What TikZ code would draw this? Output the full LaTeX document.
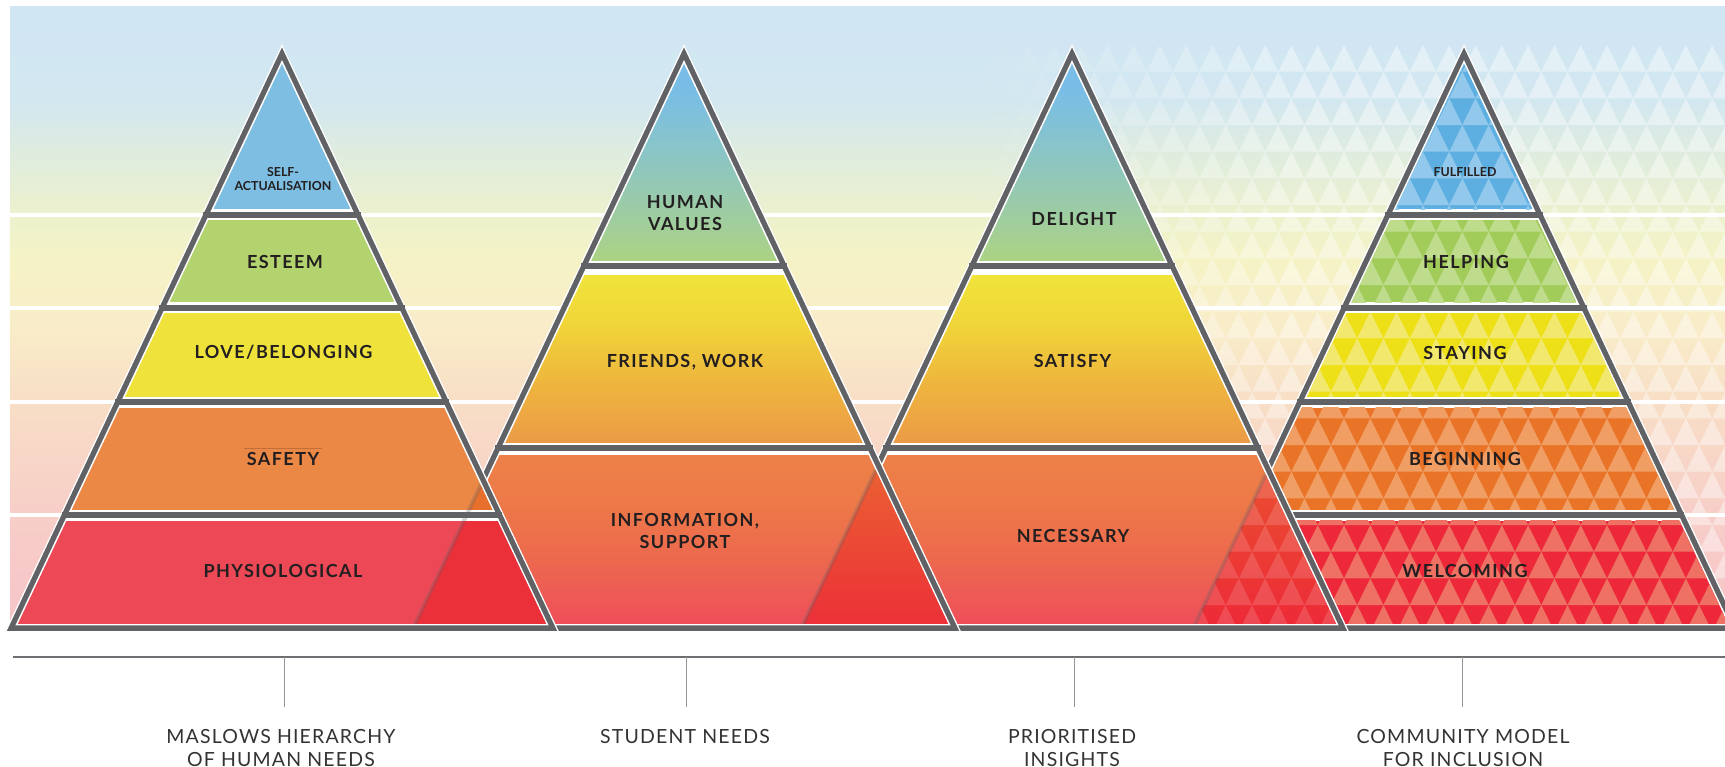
\documentclass[tikz,border=0pt]{standalone}
\usepackage{fontspec}
\setmainfont{Lato}
\newfontfamily\labfont[LetterSpace=8]{Lato}
\newfontfamily\smfont{Lato}
\newfontfamily\capfont[LetterSpace=6]{Lato}

\definecolor{dg}{RGB}{97,98,102}
\definecolor{txt}{RGB}{35,31,32}
\definecolor{captxt}{RGB}{51,51,51}
\definecolor{tickc}{RGB}{150,150,152}
\definecolor{basec}{RGB}{109,110,113}
% background
\definecolor{bgA}{RGB}{246,196,200}
\definecolor{bgB}{RGB}{247,206,200}
\definecolor{bgC}{RGB}{248,222,198}
\definecolor{bgD}{RGB}{249,236,200}
\definecolor{bgE}{RGB}{245,243,198}
\definecolor{bgF}{RGB}{236,241,205}
\definecolor{bgG}{RGB}{222,236,224}
\definecolor{bgH}{RGB}{210,231,240}
\definecolor{bgI}{RGB}{208,230,243}
% pyramid 1
\definecolor{aB}{RGB}{125,190,226}
\definecolor{eG}{RGB}{179,211,111}
\definecolor{lY}{RGB}{239,227,59}
\definecolor{sO}{RGB}{236,136,69}
\definecolor{pR}{RGB}{237,72,86}
\definecolor{oO}{RGB}{232,112,45}
\definecolor{oR}{RGB}{235,48,58}
% pyramid 4 (base and light triangles)
\definecolor{fB}{RGB}{94,175,225}
\definecolor{fBl}{RGB}{145,200,236}
\definecolor{hG}{RGB}{162,204,90}
\definecolor{hGl}{RGB}{190,220,140}
\definecolor{sY}{RGB}{237,224,23}
\definecolor{sYl}{RGB}{242,232,110}
\definecolor{bO}{RGB}{233,116,40}
\definecolor{bOl}{RGB}{240,158,100}
\definecolor{wR}{RGB}{236,40,58}
\definecolor{wRl}{RGB}{238,113,100}
% gradient layers
\definecolor{tA}{RGB}{172,211,131}
\definecolor{tB}{RGB}{152,202,172}
\definecolor{tC}{RGB}{133,195,208}
\definecolor{tD}{RGB}{121,189,230}
\definecolor{mA}{RGB}{236,155,70}
\definecolor{mB}{RGB}{238,180,62}
\definecolor{mC}{RGB}{240,212,56}
\definecolor{mD}{RGB}{240,228,58}
\definecolor{bA}{RGB}{238,78,90}
\definecolor{bB}{RGB}{237,105,78}
\definecolor{bC}{RGB}{237,122,72}
\definecolor{bD}{RGB}{237,128,72}
\definecolor{oxA}{RGB}{236,48,56}
\definecolor{oxB}{RGB}{234,100,50}
\definecolor{oyA}{RGB}{237,42,55}
\definecolor{oyB}{RGB}{234,82,48}

\pgfdeclareverticalshading{bgsh}{100bp}{color(0bp)=(bgA); color(25bp)=(bgA); color(34.1bp)=(bgB); color(43.2bp)=(bgC); color(49bp)=(bgD); color(54.6bp)=(bgE); color(58.3bp)=(bgF); color(63.5bp)=(bgG); color(67.5bp)=(bgH); color(75bp)=(bgI); color(100bp)=(bgI)}
\pgfdeclareverticalshading{topsh}{100bp}{color(0bp)=(tA); color(25bp)=(tA); color(40bp)=(tB); color(55bp)=(tC); color(65bp)=(tD); color(75bp)=(tD); color(100bp)=(tD)}
\pgfdeclareverticalshading{midsh}{100bp}{color(0bp)=(mA); color(25bp)=(mA); color(42bp)=(mB); color(60bp)=(mC); color(75bp)=(mD); color(100bp)=(mD)}
\pgfdeclareverticalshading{botsh}{100bp}{color(0bp)=(bA); color(25bp)=(bA); color(45bp)=(bB); color(62bp)=(bC); color(75bp)=(bD); color(100bp)=(bD)}
\pgfdeclareverticalshading{ovxsh}{100bp}{color(0bp)=(oxA); color(25bp)=(oxA); color(75bp)=(oxB); color(100bp)=(oxB)}
\pgfdeclareverticalshading{ovysh}{100bp}{color(0bp)=(oyA); color(25bp)=(oyA); color(75bp)=(oyB); color(100bp)=(oyB)}

% offset triangle: apex x, offset d (outward positive)
\newcommand\pyrtri[2]{(#1,{54-2.344*(#2)}) -- ({#1+(574+3.344*(#2))*0.4716},{628+(#2)}) -- ({#1-(574+3.344*(#2))*0.4716},{628+(#2)}) -- cycle}
\newcommand\pyrbase[1]{\fill[white] \pyrtri{#1}{4.2}; \fill[dg] \pyrtri{#1}{2.8}; \fill[white] \pyrtri{#1}{-2.6};}
\newcommand\pyrdiv[2]{\draw[divline] ({#1-0.4716*(#2-54)-3},#2) -- ({#1+0.4716*(#2-54)+3},#2);}
% pattern: kmin kmax rmin rmax fill-options
\newcommand\pyrpat[5]{\foreach \r in {#3,...,#4}{\foreach \k in {#1,...,#2}{%
  \pgfmathsetmacro\ax{1580.7+(\k+0.5*mod(\r,2))*26.3}%
  \fill[#5] (\ax,{45+\r*26.67}) -- ++(13.15,26.67) -- ++(-26.3,0) -- cycle;}}}
% one patterned layer of pyramid 4: ytop ybot base light rmin rmax
\newcommand\patlayer[6]{\begin{scope}
  \clip (1150,#1) rectangle (1780,#2);
  \fill[#3] (1150,#1) rectangle (1780,#2);
  \pyrpat{-16}{6}{#5}{#6}{#4}
\end{scope}}

\tikzset{
  divline/.style={dg, line width=6pt},
  ghost/.style={dg, opacity=0.28, line width=4pt},
  lab/.style={text=txt, font=\labfont\bfseries\fontsize{18}{22}\selectfont, inner sep=0pt, align=center},
  smlab/.style={text=txt, font=\smfont\bfseries\fontsize{12.4}{14}\selectfont, inner sep=0pt, align=center},
  caplab/.style={text=captxt, font=\capfont\fontsize{19.5}{22.3}\selectfont, inner sep=0pt, align=center},
  bgline/.style={white, line width=3.4pt},
  tickline/.style={tickc, line width=1pt},
  baseline/.style={basec, line width=1.5pt}
}

\begin{document}
\begin{tikzpicture}[x=1pt,y=-1pt]
\useasboundingbox (0,0) rectangle (1725,767);
\fill[white] (0,0) rectangle (1725,767);
\clip (0,0) rectangle (1725,767);

% background
\shade[shading=bgsh] (10,7) rectangle (1725,628);
\begin{scope}
  \clip (10,7) rectangle (1725,628);
  \foreach \r in {0,...,21}{\foreach \k in {-24,...,6}{%
    \pgfmathsetmacro\ax{1580.7+(\k+0.5*mod(\r,2))*26.3}%
    \pgfmathsetmacro\op{0.40*min(1,max(0,(\ax-970)/320))}%
    \fill[white,fill opacity=\op] (\ax,{45+\r*26.67}) -- ++(13.15,26.67) -- ++(-26.3,0) -- cycle;}}
\end{scope}
\foreach \yy in {215,308,402,515}{\draw[bgline] (10,\yy) -- (1725,\yy);}

% ---------- pyramid 4 ----------
\pyrbase{1464}
\begin{scope}
  \clip \pyrtri{1464}{-4.2};
  \patlayer{0}{209.5}{fB}{fBl}{0}{6}
  \patlayer{220.5}{302.5}{hG}{hGl}{6}{9}
  \patlayer{313.5}{396.5}{sY}{sYl}{9}{13}
  \patlayer{407.5}{509.5}{bO}{bOl}{13}{17}
  \patlayer{520.5}{640}{wR}{wRl}{17}{22}
\end{scope}
\pyrdiv{1464}{215}\pyrdiv{1464}{308}\pyrdiv{1464}{402}\pyrdiv{1464}{515}

% ---------- pyramid 3 ----------
\pyrbase{1072}
\begin{scope}
  \clip \pyrtri{1072}{-4.2};
  \shade[shading=topsh] (780,50) rectangle (1370,261);
  \shade[shading=midsh] (780,276) rectangle (1370,442);
  \shade[shading=botsh] (780,455) rectangle (1370,626);
\end{scope}
\begin{scope}
  \clip \pyrtri{1072}{-4.2};
  \clip \pyrtri{1464}{0};
  \shade[shading=ovysh] (1150,455) rectangle (1370,626);
  \pyrpat{-16}{-7}{15}{21}{white,fill opacity=0.15}
\end{scope}
\begin{scope}
  \clip \pyrtri{1072}{-4.2};
  \draw[ghost] (1464,54) -- (1193.3,628);
\end{scope}
\pyrdiv{1072}{266.5}\pyrdiv{1072}{448.4}

% ---------- pyramid 2 ----------
\pyrbase{684}
\begin{scope}
  \clip \pyrtri{684}{-4.2};
  \shade[shading=topsh] (390,50) rectangle (980,261);
  \shade[shading=midsh] (390,276) rectangle (980,442);
  \shade[shading=botsh] (390,455) rectangle (980,626);
\end{scope}
\begin{scope}
  \clip \pyrtri{684}{-4.2};
  \clip \pyrtri{1072}{0};
  \shade[shading=ovxsh] (780,455) rectangle (980,626);
\end{scope}
\begin{scope}
  \clip \pyrtri{684}{-4.2};
  \draw[ghost] (1072,54) -- (801.3,628);
\end{scope}
\pyrdiv{684}{266.5}\pyrdiv{684}{448.4}

% ---------- pyramid 1 ----------
\pyrbase{282}
\begin{scope}
  \clip \pyrtri{282}{-4.2};
  \fill[aB] (0,0) rectangle (600,209.5);
  \fill[eG] (0,220.5) rectangle (600,302.5);
  \fill[lY] (0,313.5) rectangle (600,396.5);
  \fill[sO] (0,407.5) rectangle (600,509.5);
  \fill[pR] (0,520.5) rectangle (600,640);
\end{scope}
\begin{scope}
  \clip \pyrtri{282}{-4.2};
  \clip \pyrtri{684}{0};
  \fill[oO] (0,407.5) rectangle (600,509.5);
  \fill[oR] (0,520.5) rectangle (600,640);
\end{scope}
\begin{scope}
  \clip \pyrtri{282}{-4.2};
  \draw[ghost] (684,54) -- (413.3,628);
\end{scope}
\pyrdiv{282}{215}\pyrdiv{282}{308}\pyrdiv{282}{402}\pyrdiv{282}{515}
\draw[color=sO!70!black, line width=0.6pt, opacity=0.6] (244,448.3) -- (321.5,448.3);

% ---------- labels ----------
\node[smlab] (selfact) at (283,179) {SELF-\\ACTUALISATION};
\node[lab] (esteem) at (285,261.7) {ESTEEM};
\node[lab] (love) at (283.5,352.7) {LOVE/BELONGING};
\node[lab] (safety) at (283,459.3) {SAFETY};
\node[lab] (physio) at (283,570.7) {PHYSIOLOGICAL};

\node[lab] (human) at (685,213) {HUMAN\\VALUES};
\node[lab] (friends) at (685,361.7) {FRIENDS, WORK};
\node[lab] (info) at (685,531) {INFORMATION,\\SUPPORT};

\node[lab] (delight) at (1074,219) {DELIGHT};
\node[lab] (satisfy) at (1072.5,361) {SATISFY};
\node[lab] (necessary) at (1073,535.7) {NECESSARY};

\node[smlab] (fulfilled) at (1465,171.7) {FULFILLED};
\node[lab] (helping) at (1466,261.7) {HELPING};
\node[lab] (staying) at (1465,352.7) {STAYING};
\node[lab] (beginning) at (1465,459) {BEGINNING};
\node[lab] (welcoming) at (1465,570.7) {WELCOMING};

% ---------- axis ----------
\coordinate (bl) at (12.6,657);
\coordinate (br) at (1725,657);
\draw[baseline] (bl) -- (br);
\coordinate (t1a) at (284,657);  \coordinate (t1b) at (284,707);
\coordinate (t2a) at (686,657);  \coordinate (t2b) at (686,707);
\coordinate (t3a) at (1074,657); \coordinate (t3b) at (1074,707);
\coordinate (t4a) at (1462,657); \coordinate (t4b) at (1462,707);
\draw[tickline] (t1a) -- (t1b);
\draw[tickline] (t2a) -- (t2b);
\draw[tickline] (t3a) -- (t3b);
\draw[tickline] (t4a) -- (t4b);
\node[caplab] (c1) at (281,748) {MASLOWS HIERARCHY\\OF HUMAN NEEDS};
\node[caplab] (c2) at (685,736.7) {STUDENT NEEDS};
\node[caplab] (c3) at (1072,748) {PRIORITISED\\INSIGHTS};
\node[caplab] (c4) at (1463,748) {COMMUNITY MODEL\\FOR INCLUSION};
\end{tikzpicture}
\end{document}
